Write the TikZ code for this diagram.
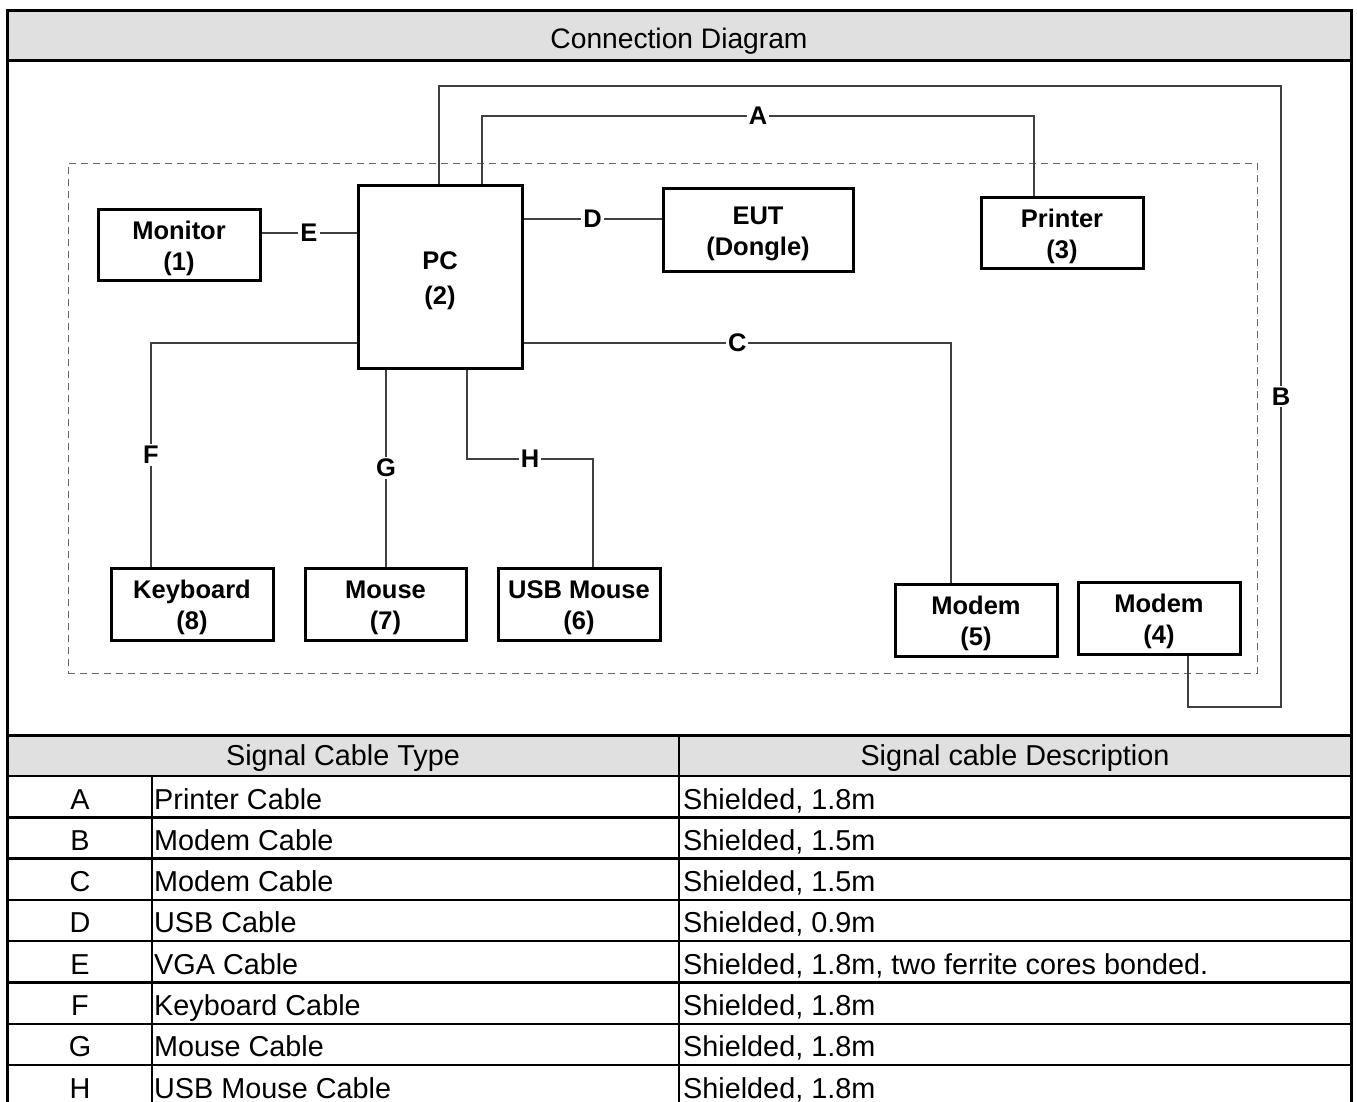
\documentclass[tikz,border=0pt]{standalone}
\usepackage{fontspec}
\setmainfont{Liberation Sans}
\definecolor{titlegray}{RGB}{224,224,224}
\newcommand\lblfont{\bfseries\fontsize{25.5}{31}\selectfont}
\newcommand\labfont{\bfseries\fontsize{25.5}{28}\selectfont}
\newcommand\tabfont{\fontsize{28.8}{30}\selectfont}
\newcommand\ttlfont{\fontsize{28.2}{30}\selectfont}
\newcommand\topstrut{\rule{0pt}{30pt}}
\tikzset{
  box/.style={draw=black, line width=3pt, inner sep=0pt, align=center, font=\lblfont},
  cable/.style={draw=black!75, line width=1.2pt},
  lab/.style={fill=white, inner sep=2pt, font=\labfont},
  cell/.style={inner sep=0pt, font=\tabfont},
  grpbox/.style={draw=black!60, line width=1pt, dash pattern=on 7pt off 5pt, inner sep=0pt},
  frame/.style={line width=3pt},
  rule/.style={line width=2.5pt},
}
\begin{document}
\begin{tikzpicture}[x=1pt,y=-1pt]
\useasboundingbox (0,0) rectangle (1357,1101);
% fills
\fill[titlegray] (7,10) rectangle (1351,60);
\fill[titlegray] (7,735) rectangle (1351,776);
% group outline
\node[grpbox, minimum width=1189pt, minimum height=510pt] (grp) at (662.5,418) {};
% devices
\node[box, minimum width=162pt, minimum height=71pt] (mon) at (179,244.5) {\topstrut Monitor\\\strut(1)};
\node[box, minimum width=164pt, minimum height=183pt] (pc) at (440,276.5) {\topstrut PC\\[4pt]\strut(2)};
\node[box, minimum width=190pt, minimum height=83pt] (eut) at (758,229.5) {\topstrut EUT\\\strut(Dongle)};
\node[box, minimum width=162pt, minimum height=71pt] (prn) at (1062,232.5) {\topstrut Printer\\\strut(3)};
\node[box, minimum width=162pt, minimum height=72pt] (kbd) at (192,604) {\topstrut Keyboard\\\strut(8)};
\node[box, minimum width=161pt, minimum height=72pt] (mou) at (385.5,604) {\topstrut Mouse\\\strut(7)};
\node[box, minimum width=162pt, minimum height=72pt] (usb) at (579,604) {\topstrut USB Mouse\\\strut(6)};
\node[box, minimum width=162pt, minimum height=72pt] (mod5) at (976,620) {\topstrut Modem\\\strut(5)};
\node[box, minimum width=162pt, minimum height=72pt] (mod4) at (1159,618) {\topstrut Modem\\\strut(4)};
% routing levels
\coordinate (yE) at (0,233);
\coordinate (yD) at (0,219);
\coordinate (yA) at (0,116);
\coordinate (yB) at (0,86);
\coordinate (yC) at (0,343);
\coordinate (yH) at (0,459);
\coordinate (yB2) at (0,707);
\coordinate (xA) at (482,0);
\coordinate (xAr) at (1034,0);
\coordinate (xB) at (439,0);
\coordinate (xBr) at (1281,0);
\coordinate (xB4) at (1188,0);
\coordinate (xC) at (951,0);
\coordinate (xF) at (151,0);
\coordinate (xG) at (386,0);
\coordinate (xH) at (467,0);
\coordinate (xHr) at (593,0);
% cables
\draw[cable] (mon.east |- yE) -- node[lab] (lE) {E} (pc.west |- yE);
\draw[cable] (pc.east |- yD) -- node[lab] (lD) {D} (eut.west |- yD);
\draw[cable] (xA |- pc.north) -- (xA |- yA) -- node[lab] (lA) {A} (xAr |- yA) -- (xAr |- prn.north);
\draw[cable] (xB |- pc.north) -- (xB |- yB) -- (xBr |- yB) -- node[lab] (lB) {B} (xBr |- yB2) -- (xB4 |- yB2) -- (xB4 |- mod4.south);
\draw[cable] (pc.east |- yC) -- node[lab] (lC) {C} (xC |- yC) -- (xC |- mod5.north);
\draw[cable] (pc.west |- yC) -- (xF |- yC) -- node[lab] (lF) {F} (xF |- kbd.north);
\draw[cable] (xG |- pc.south) -- node[lab] (lG) {G} (xG |- mou.north);
\draw[cable] (xH |- pc.south) -- (xH |- yH) -- node[lab] (lH) {H} (xHr |- yH) -- (xHr |- usb.north);
% frame and table rules
\draw[frame] (7,1110) -- (7,10) -- (1351,10) -- (1351,1110);
\draw[frame] (7,60) -- (1351,60);
\draw[frame] (7,735) -- (1351,735);
\foreach \k in {0,...,7} \draw[rule] (7,776+41.3*\k) -- (1351,776+41.3*\k);
\draw[rule] (152,776) -- (152,1110);
\draw[rule] (679,735) -- (679,1110);
% texts
\node[cell, anchor=base, font=\ttlfont] (ttl) at (679,48) {Connection Diagram};
\node[cell, anchor=base] (h1) at (343,765) {Signal Cable Type};
\node[cell, anchor=base] (h2) at (1015,765) {Signal cable Description};
\node[cell, anchor=base] (rA) at (80,809) {A};
\node[cell, anchor=base west] (tA) at (154,809) {Printer Cable};
\node[cell, anchor=base west] (dA) at (683,809) {Shielded, 1.8m};
\node[cell, anchor=base] (rB) at (80,850.3) {B};
\node[cell, anchor=base west] (tB) at (154,850.3) {Modem Cable};
\node[cell, anchor=base west] (dB) at (683,850.3) {Shielded, 1.5m};
\node[cell, anchor=base] (rC) at (80,891.6) {C};
\node[cell, anchor=base west] (tC) at (154,891.6) {Modem Cable};
\node[cell, anchor=base west] (dC) at (683,891.6) {Shielded, 1.5m};
\node[cell, anchor=base] (rD) at (80,932.9) {D};
\node[cell, anchor=base west] (tD) at (154,932.9) {USB Cable};
\node[cell, anchor=base west] (dD) at (683,932.9) {Shielded, 0.9m};
\node[cell, anchor=base] (rE) at (80,974.2) {E};
\node[cell, anchor=base west] (tE) at (154,974.2) {VGA Cable};
\node[cell, anchor=base west] (dE) at (683,974.2) {Shielded, 1.8m, two ferrite cores bonded.};
\node[cell, anchor=base] (rF) at (80,1015.5) {F};
\node[cell, anchor=base west] (tF) at (154,1015.5) {Keyboard Cable};
\node[cell, anchor=base west] (dF) at (683,1015.5) {Shielded, 1.8m};
\node[cell, anchor=base] (rG) at (80,1056.8) {G};
\node[cell, anchor=base west] (tG) at (154,1056.8) {Mouse Cable};
\node[cell, anchor=base west] (dG) at (683,1056.8) {Shielded, 1.8m};
\node[cell, anchor=base] (rH) at (80,1098.1) {H};
\node[cell, anchor=base west] (tH) at (154,1098.1) {USB Mouse Cable};
\node[cell, anchor=base west] (dH) at (683,1098.1) {Shielded, 1.8m};
\end{tikzpicture}
\end{document}
